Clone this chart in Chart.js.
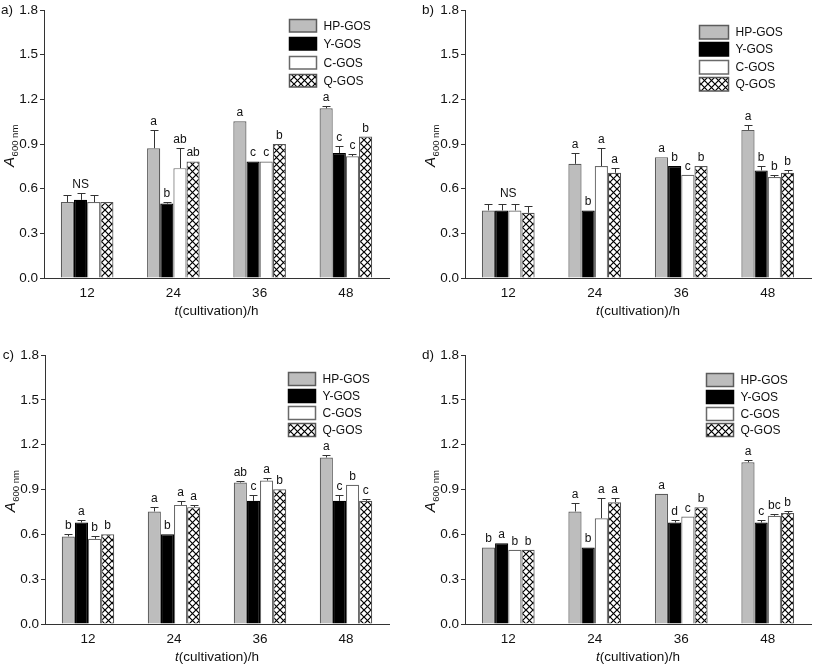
<!DOCTYPE html>
<html>
<head>
<meta charset="utf-8">
<script src="https://cdn.jsdelivr.net/npm/chart.js@4.4.1/dist/chart.umd.min.js"></script>
<style>
  body { margin: 0; background: #fff; }
  #wrap { position: relative; width: 814px; height: 666px; }
  canvas { position: absolute; }
</style>
</head>
<body>
<div id="wrap">
  <canvas id="chartA" width="400" height="330" style="left:0;top:0"></canvas>
  <canvas id="chartB" width="414" height="330" style="left:400px;top:0"></canvas>
  <canvas id="chartC" width="400" height="336" style="left:0;top:330px"></canvas>
  <canvas id="chartD" width="414" height="336" style="left:400px;top:330px"></canvas>
</div>
<script>
const hours = ['12', '24', '36', '48'];
const seriesNames = ['HP-GOS', 'Y-GOS', 'C-GOS', 'Q-GOS'];
const yTicks = [0, 0.3, 0.6, 0.9, 1.2, 1.5, 1.8];

// panel a) — rows: HP, Y, C, Q
const meansA = [[0.51, 0.872, 1.053, 1.14], [0.525, 0.50, 0.783, 0.84], [0.51, 0.738, 0.783, 0.818], [0.51, 0.783, 0.90, 0.95]];
const errA = [[0.047, 0.12, 0, 0.018], [0.045, 0.012, 0, 0.045], [0.047, 0.134, 0, 0.012], [0, 0, 0, 0]];
const lettersA = [['', 'a', 'a', 'a'], ['NS', 'b', 'c', 'c'], ['', 'ab', 'c', 'c'], ['', 'ab', 'b', 'b']];
const notesA = ['', '', '', ''];

// panel b)
const meansB = [[0.454, 0.767, 0.812, 0.995], [0.454, 0.454, 0.752, 0.723], [0.454, 0.752, 0.693, 0.678], [0.438, 0.707, 0.752, 0.707]];
const errB = [[0.045, 0.074, 0, 0.03], [0.045, 0, 0, 0.029], [0.045, 0.123, 0, 0.015], [0.043, 0.031, 0, 0.016]];
const lettersB = [['', 'a', 'a', 'a'], ['', 'b', 'b', 'b'], ['', 'a', 'c', 'b'], ['', 'a', 'b', 'b']];
const notesB = ['NS', '', '', ''];

// panel c)
const meansC = [[0.586, 0.753, 0.947, 1.114], [0.679, 0.601, 0.824, 0.824], [0.570, 0.797, 0.96, 0.931], [0.601, 0.782, 0.902, 0.824]];
const errC = [[0.015, 0.033, 0.013, 0.015], [0.014, 0, 0.036, 0.036], [0.018, 0.029, 0.016, 0], [0, 0.015, 0, 0.014]];
const lettersC = [['b', 'a', 'ab', 'a'], ['a', 'b', 'c', 'c'], ['b', 'a', 'a', 'b'], ['b', 'a', 'b', 'c']];
const notesC = ['', '', '', ''];

// panel d)
const meansD = [[0.512, 0.753, 0.871, 1.082], [0.541, 0.512, 0.679, 0.679], [0.497, 0.708, 0.719, 0.724], [0.497, 0.815, 0.782, 0.742]];
const errD = [[0, 0.06, 0, 0.016], [0, 0, 0.014, 0.014], [0, 0.134, 0, 0.011], [0, 0.027, 0, 0.011]];
const lettersD = [['b', 'a', 'a', 'a'], ['a', 'b', 'd', 'c'], ['b', 'a', 'c', 'bc'], ['b', 'a', 'b', 'b']];
const notesD = ['', '', '', ''];

const FONT = 'Arial, "Liberation Sans", sans-serif';

function makeHatch() {
  const c = document.createElement('canvas');
  c.width = 7; c.height = 7;
  const g = c.getContext('2d');
  g.fillStyle = '#fff';
  g.fillRect(0, 0, 7, 7);
  g.strokeStyle = '#000';
  g.lineWidth = 1.2;
  g.beginPath();
  g.moveTo(-1, -1); g.lineTo(8, 8);
  g.moveTo(8, -1); g.lineTo(-1, 8);
  g.stroke();
  return g.createPattern(c, 'repeat');
}
const hatch = makeHatch();

const fills = ['#bdbdbd', '#000000', '#ffffff', hatch];
const borders = ['#5c5c5c', '#000000', '#6a6a6a', '#555555'];

const decor = {
  id: 'decor',
  afterDatasetsDraw(chart, args, opts) {
    const ctx = chart.ctx, area = chart.chartArea, ys = chart.scales.y;
    ctx.save();
    ctx.strokeStyle = '#333';
    ctx.lineWidth = 1;
    // error bars (upper half only)
    chart.data.datasets.forEach((ds, i) => {
      chart.getDatasetMeta(i).data.forEach((bar, j) => {
        const e = ds.errors[j];
        if (!e) return;
        const top = Math.round(ys.getPixelForValue(ds.data[j] + e)) + 0.5;
        const x = Math.round(bar.x) + 0.5;
        ctx.beginPath();
        ctx.moveTo(x, bar.y); ctx.lineTo(x, top);
        ctx.moveTo(x - 4, top); ctx.lineTo(x + 4, top);
        ctx.stroke();
      });
    });
    // significance letters
    ctx.fillStyle = '#111';
    ctx.font = '12px ' + FONT;
    ctx.textAlign = 'center';
    ctx.textBaseline = 'alphabetic';
    chart.data.datasets.forEach((ds, i) => {
      chart.getDatasetMeta(i).data.forEach((bar, j) => {
        const t = ds.letters[j];
        if (!t) return;
        const top = ys.getPixelForValue(ds.data[j] + (ds.errors[j] || 0));
        ctx.fillText(t, bar.x, top - 5);
      });
    });
    // group notes (NS)
    opts.notes.forEach((t, j) => {
      if (!t) return;
      let top = area.bottom, xs = [];
      chart.data.datasets.forEach((ds, i) => {
        const bar = chart.getDatasetMeta(i).data[j];
        xs.push(bar.x);
        top = Math.min(top, ys.getPixelForValue(ds.data[j] + (ds.errors[j] || 0)));
      });
      const cx = (xs[0] + xs[xs.length - 1]) / 2;
      ctx.fillText(t, cx, top - 7);
    });
    ctx.restore();
  },
  afterDraw(chart, args, opts) {
    const ctx = chart.ctx, area = chart.chartArea;
    ctx.save();
    // legend
    const L = opts.legend;
    ctx.font = '12px ' + FONT;
    ctx.textAlign = 'left';
    ctx.textBaseline = 'middle';
    chart.data.datasets.forEach((ds, i) => {
      const bx = Math.round(area.left + L.dx) + 0.5;
      const by = Math.round(area.top + L.dy + i * L.step) + 0.5;
      ctx.fillStyle = ds.backgroundColor;
      ctx.fillRect(bx, by, L.w, L.h);
      ctx.strokeStyle = ds.borderColor;
      ctx.lineWidth = 1.5;
      ctx.strokeRect(bx, by, L.w, L.h);
      ctx.fillStyle = '#111';
      ctx.fillText(ds.label, bx + L.w + 7, by + L.h / 2 + 0.5);
    });
    // panel tag
    ctx.fillStyle = '#111';
    ctx.font = '13.5px ' + FONT;
    ctx.textAlign = 'right';
    ctx.fillText(opts.tag, area.left - 31, area.top);
    // y axis title: A(600 nm) rotated
    ctx.save();
    ctx.translate(area.left - 35, (area.top + area.bottom) / 2 + 2);
    ctx.rotate(-Math.PI / 2);
    ctx.textAlign = 'left';
    ctx.textBaseline = 'alphabetic';
    ctx.font = 'italic 15px ' + FONT;
    const wA = ctx.measureText('A').width;
    ctx.font = '9.5px ' + FONT;
    const wS = ctx.measureText('600 nm').width;
    const x0 = -(wA + wS) / 2;
    ctx.font = 'italic 15px ' + FONT;
    ctx.fillText('A', x0, 5);
    ctx.font = '9.5px ' + FONT;
    ctx.fillText('600 nm', x0 + wA + 0.5, 8.5);
    ctx.restore();
    // x axis title: t(cultivation)/h
    ctx.textBaseline = 'middle';
    ctx.textAlign = 'left';
    ctx.font = 'italic 13.5px ' + FONT;
    const wt = ctx.measureText('t').width;
    ctx.font = '13.5px ' + FONT;
    const wr = ctx.measureText('(cultivation)/h').width;
    const sx = (area.left + area.right) / 2 - (wt + wr) / 2;
    ctx.font = 'italic 13.5px ' + FONT;
    ctx.fillText('t', sx, area.bottom + 33);
    ctx.font = '13.5px ' + FONT;
    ctx.fillText('(cultivation)/h', sx + wt, area.bottom + 33);
    ctx.restore();
  }
};

function drawPanel(id, tag, means, errs, letters, notes, geo, legend) {
  const el = document.getElementById(id);
  new Chart(el.getContext('2d'), {
    type: 'bar',
    data: {
      labels: hours,
      datasets: seriesNames.map((name, i) => ({
        label: name,
        data: means[i],
        errors: errs[i],
        letters: letters[i],
        backgroundColor: fills[i],
        borderColor: borders[i],
        borderWidth: 1.2,
        borderSkipped: 'bottom',
        categoryPercentage: 0.61,
        barPercentage: 1.0
      }))
    },
    options: {
      responsive: false,
      maintainAspectRatio: false,
      animation: false,
      devicePixelRatio: 1,
      layout: { padding: { left: 0, top: geo.top, right: geo.right, bottom: 0 } },
      plugins: {
        legend: { display: false },
        tooltip: { enabled: false },
        decor: { tag: tag, notes: notes, legend: legend }
      },
      scales: {
        x: {
          grid: { display: false, drawTicks: false },
          border: { display: true, color: '#333', width: 1 },
          ticks: { color: '#111', font: { size: 13.5, family: FONT }, padding: 7 },
          afterFit(s) { s.height = geo.xh; }
        },
        y: {
          min: 0,
          max: 1.8,
          afterBuildTicks(s) { s.ticks = yTicks.map(v => ({ value: v })); },
          grid: { drawOnChartArea: false, drawTicks: true, tickLength: 4, color: '#333' },
          border: { display: true, color: '#333', width: 1 },
          ticks: {
            color: '#111',
            font: { size: 13.5, family: FONT },
            padding: 2,
            callback: v => Number(v).toFixed(1)
          },
          afterFit(s) { s.width = geo.left; }
        }
      }
    },
    plugins: [decor]
  });
}

drawPanel('chartA', 'a)', meansA, errA, lettersA, notesA,
  { left: 44, right: 11, top: 9.5, xh: 52 }, { dx: 245, dy: 9, step: 18.2, w: 27, h: 12.5 });
drawPanel('chartB', 'b)', meansB, errB, lettersB, notesB,
  { left: 65, right: 3, top: 9.5, xh: 52 }, { dx: 234, dy: 15, step: 17.2, w: 29, h: 13.5 });
drawPanel('chartC', 'c)', meansC, errC, lettersC, notesC,
  { left: 45, right: 11, top: 25, xh: 42 }, { dx: 243, dy: 17, step: 17, w: 27, h: 13 });
drawPanel('chartD', 'd)', meansD, errD, lettersD, notesD,
  { left: 65, right: 3, top: 25, xh: 42 }, { dx: 241, dy: 18, step: 16.8, w: 27, h: 13 });
</script>
</body>
</html>
